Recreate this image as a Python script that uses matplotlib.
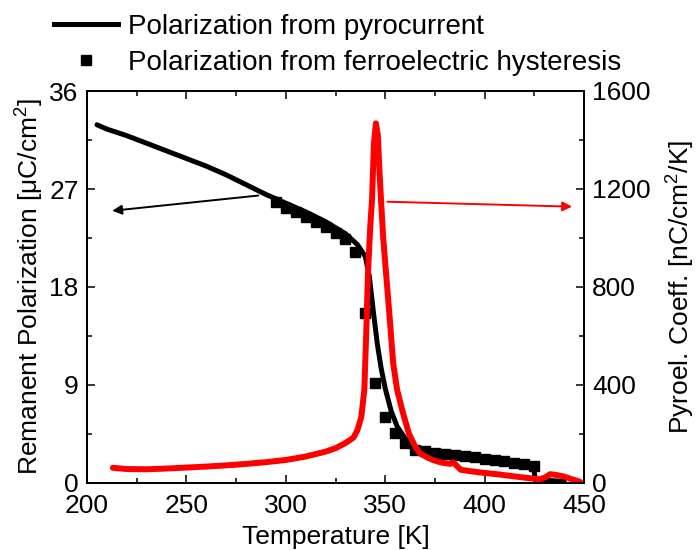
import numpy as np
import matplotlib
matplotlib.use("Agg")
import matplotlib.pyplot as plt
from matplotlib.ticker import MultipleLocator
from matplotlib.lines import Line2D

plt.rcParams['font.family'] = ['Liberation Sans', 'DejaVu Sans']

# polarization from pyrocurrent (black line), uC/cm^2
T_pyro = [205, 210, 220, 230, 240, 250, 260, 270, 280, 290, 300, 310, 320, 330,
          336, 340, 342, 344, 346, 348, 350, 353, 356, 360, 364, 370, 380, 390,
          400, 410, 420, 424.5, 425.5, 440]
P_pyro = [32.9, 32.5, 31.9, 31.2, 30.5, 29.8, 29.1, 28.3, 27.4, 26.5, 25.7, 24.9,
          24.0, 22.9, 21.9, 20.8, 19.0, 15.8, 12.8, 10.5, 8.7, 6.6, 5.2, 4.1, 3.4,
          2.95, 2.5, 2.25, 2.05, 1.9, 1.75, 1.65, 0.3, 0.15]

# polarization from ferroelectric hysteresis (squares)
T_hyst = [295, 300, 305, 310, 315, 320, 325, 330, 335, 340, 345, 350, 355, 360,
          365, 370, 375, 380, 385, 390, 395, 400, 405, 410, 415, 420, 425]
P_hyst = [25.8, 25.3, 24.9, 24.4, 24.0, 23.5, 23.0, 22.4, 21.2, 15.6, 9.2, 6.1,
          4.6, 3.7, 3.0, 2.95, 2.8, 2.65, 2.55, 2.45, 2.35, 2.25, 2.1, 2.0, 1.85,
          1.75, 1.6]

# pyroelectric coefficient (red line), nC/cm^2/K
T_coef = [213, 220, 230, 240, 250, 260, 270, 280, 290, 300, 310, 320, 325, 330,
          334, 336, 338, 339.5, 340.5, 341.3, 342.5, 343.4, 344.3, 345.3, 346.3,
          347.2, 348, 349, 350, 351, 352.5, 354, 356, 359, 362, 365, 367.5, 371,
          374, 378, 382.6, 384.3, 386, 388, 393, 399, 406, 413, 420, 428, 431,
          433, 436, 440, 444, 448]
C_coef = [62, 57, 56, 59, 63, 67, 72, 78, 85, 94, 108, 128, 142, 163, 185, 215,
          270, 380, 620, 850, 1050, 1160, 1380, 1468, 1420, 1260, 1140, 1000, 900,
          800, 650, 490, 380, 284, 200, 150, 121, 105, 94, 84, 78, 84, 70, 54, 48,
          42, 36, 29, 22, 15, 25, 36, 33, 26, 15, 5]

fs = 19
fig = plt.figure(figsize=(6.96, 5.5), dpi=100)
ax = fig.add_axes([87/696, 67/550, 497/696, 392/550])
ax2 = ax.twinx()

ax.plot(T_pyro, P_pyro, color='black', lw=3.6, solid_capstyle='round')
ax.plot(T_hyst, P_hyst, 's', color='black', ms=6.5, mec='black')
ax2.plot(T_coef, C_coef, color='red', lw=4.3, solid_joinstyle='round',
         solid_capstyle='round')

ax.set_xlim(200, 450)
ax.set_ylim(0, 36)
ax2.set_ylim(0, 1600)
ax.xaxis.set_major_locator(MultipleLocator(50))
ax.xaxis.set_minor_locator(MultipleLocator(25))
ax.yaxis.set_major_locator(MultipleLocator(9))
ax.yaxis.set_minor_locator(MultipleLocator(4.5))
ax2.yaxis.set_major_locator(MultipleLocator(400))
ax2.yaxis.set_minor_locator(MultipleLocator(200))

ax.tick_params(which='both', direction='in', top=True, right=False,
               labelsize=fs, width=1.1, pad=6)
ax.tick_params(axis='x', which='both', pad=8)
ax.tick_params(which='major', length=6)
ax.tick_params(which='minor', length=3.5)
ax2.tick_params(which='both', direction='in', labelsize=fs, width=1.1, pad=6)
ax2.tick_params(which='major', length=6)
ax2.tick_params(which='minor', length=3.5)
for a in (ax, ax2):
    for s in a.spines.values():
        s.set_linewidth(1.4)

ax.set_xlabel('Temperature [K]', fontsize=fs, labelpad=5)
ax.set_ylabel('Remanent Polarization [$\\mathregular{\\mu C/cm^2}$]', fontsize=fs, labelpad=2)
ax2.set_ylabel('Pyroel. Coeff. [$\\mathregular{nC/cm^2/K}$]', fontsize=fs, labelpad=10)

ax.annotate('', xy=(212.7, 25.0), xytext=(286.2, 26.4),
            arrowprops=dict(arrowstyle='-|>', color='black', lw=1.4,
                            mutation_scale=14, shrinkA=0, shrinkB=0))
ax2.annotate('', xy=(444, 1128), xytext=(351.1, 1148),
             arrowprops=dict(arrowstyle='-|>', color='red', lw=1.4,
                             mutation_scale=14, shrinkA=0, shrinkB=0))

handles = [Line2D([], [], color='black', lw=3.6),
           Line2D([], [], color='black', marker='s', ls='none', ms=6.5)]
labels = ['Polarization from pyrocurrent',
          'Polarization from ferroelectric hysteresis']
fig.legend(handles, labels, loc='upper left', bbox_to_anchor=(54/696, 1 - 14/550),
           frameon=False, fontsize=20, handlelength=2.3, handletextpad=0.35,
           borderpad=0, borderaxespad=0, labelspacing=0.35)

fig.savefig('out.png', dpi=100)
